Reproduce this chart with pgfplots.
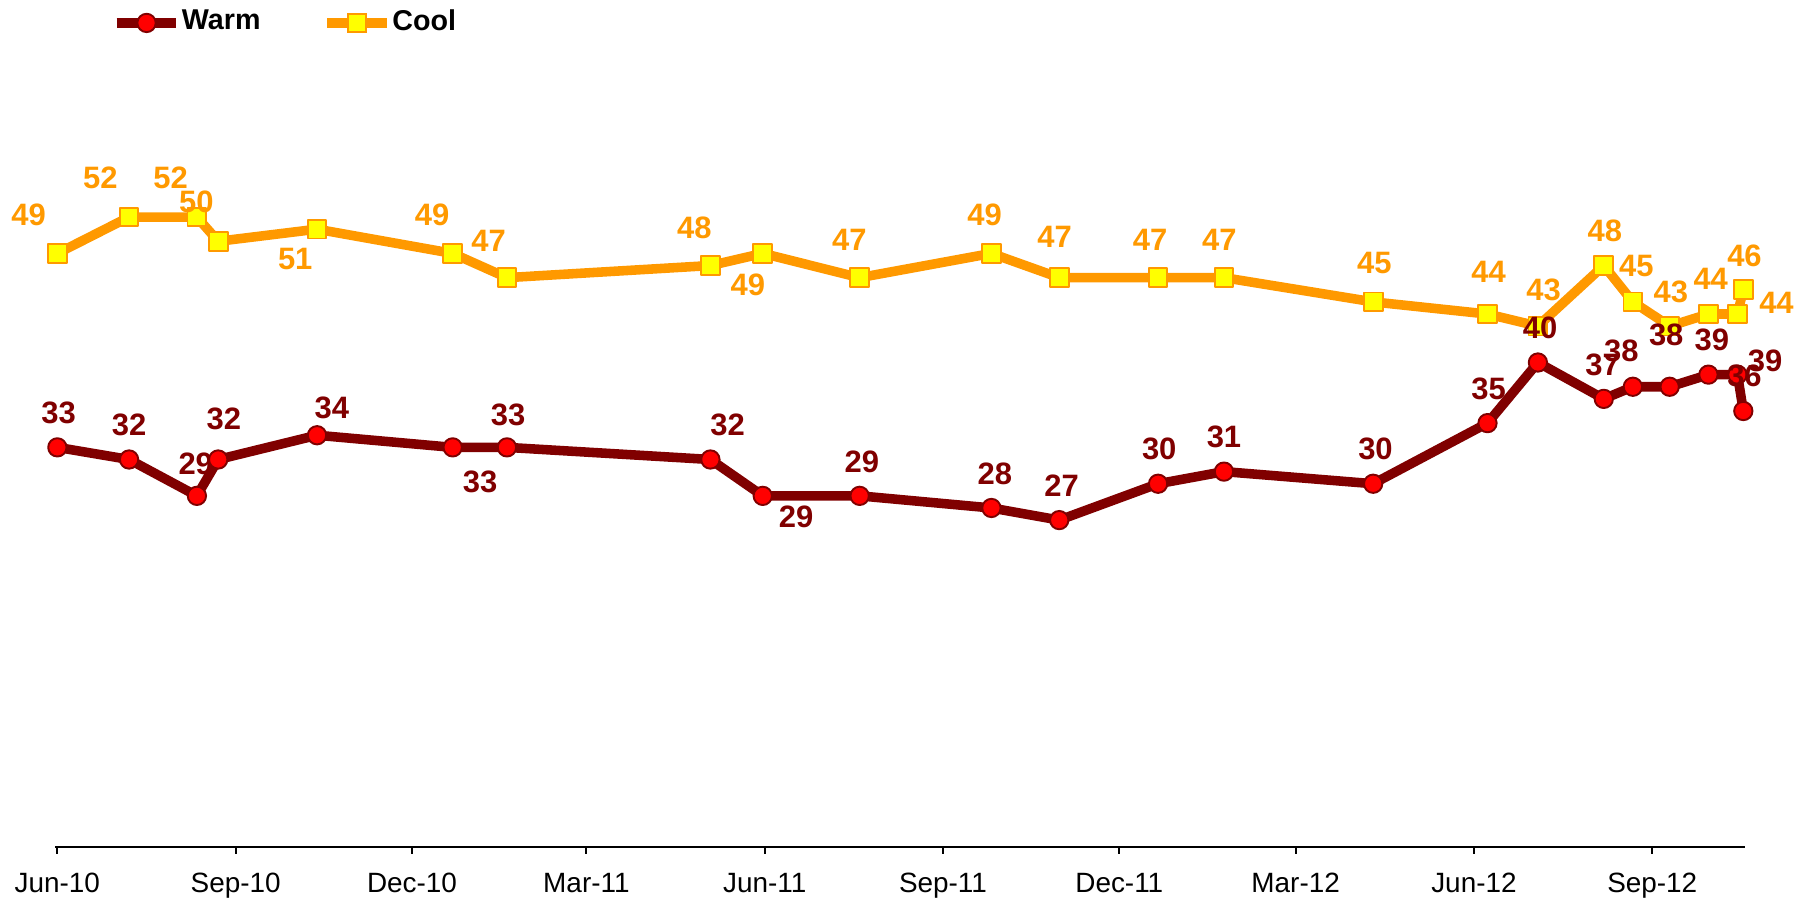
\documentclass[border=0pt]{standalone}
\usepackage{fontspec}
\setmainfont{Liberation Sans}
\usepackage{pgfplots}
\pgfplotsset{compat=1.18}
\definecolor{warm}{HTML}{800000}
\definecolor{warmfill}{HTML}{FF0000}
\definecolor{cool}{HTML}{FF9900}
\definecolor{coolfill}{HTML}{FFFF00}

\begin{document}
\begin{tikzpicture}
\begin{axis}[name=ax,
  scale only axis, width=442.1pt, height=222pt,
  xmin=-1, xmax=871, ymin=0, ymax=70,
  axis x line*=bottom, axis y line=none,
  clip=false,
  xtick={0,92,183,273,365,457,548,639,731,823},
  xticklabels={Jun-10,Sep-10,Dec-10,Mar-11,Jun-11,Sep-11,Dec-11,Mar-12,Jun-12,Sep-12},
  xtick align=outside, major tick length=1.6pt,
  tick style={black, line width=0.5pt},
  axis line style={black, line width=0.5pt},
  xticklabel style={font=\fontsize{7.3}{8.8}\selectfont, anchor=base, yshift=-10.1pt},
  /pgf/number format/assume math mode=true,
  legend columns=2,
  legend style={draw=none, fill=none, at={(0.0330,0.9716)}, anchor=west,
    font=\bfseries\fontsize{7.5}{9}\selectfont, inner sep=0pt,
    /tikz/every even column/.append style={column sep=16pt},
    nodes={inner sep=0.2pt}},
  legend image code/.code={\draw[mark repeat=2,mark phase=2,#1] plot coordinates {(0pt,0pt)(7.8pt,0pt)(15.6pt,0pt)};},
]
\addlegendimage{color=warm, line width=2.5pt, mark=*, mark size=2.4pt, mark options={fill=warmfill, draw=warm, line width=0.5pt}}
\addlegendentry{Warm}
\addlegendimage{color=cool, line width=2.5pt, mark=square*, mark size=2.45pt, mark options={fill=coolfill, draw=cool, line width=0.5pt}}
\addlegendentry{Cool}
% x = days since 1 Jun 2010, y = value, dx/dy = label offset (px)
\addplot[forget plot, color=cool, line width=2.5pt, line join=round,
  mark=square*, mark size=2.45pt, mark options={fill=coolfill, draw=cool, line width=0.5pt},
  nodes near coords,
  visualization depends on={\thisrow{dx} \as \ldx},
  visualization depends on={\thisrow{dy} \as \ldy},
  every node near coord/.append style={anchor=center, inner sep=0pt, text=cool,
    font=\bfseries\fontsize{8.1}{9.7}\selectfont, xshift={\ldx*0.3pt}, yshift={\ldy*0.3pt}},
] table[x=x,y=y] {
x y dx dy
0 49 -25 34
37 52 -25 34
72 52 -23 34
83 50 -19 34
134 51 -19 -26
204 49 -18 34
232 47 -16 32
337 48 -14 33
364 49 -13 -27
414 47 -9 33
482 49 -6 34
517 47 -4 36
568 47 -7 33
602 47 -4 33
679 45 1 34
738 44 1 37
764 43 5 32
798 48 1 30
813 45 3 31
832 43 1 30
852 44 2 31
867 44 34 10
870 46 1 30
};
\addplot[forget plot, color=warm, line width=2.5pt, line join=round,
  mark=*, mark size=2.4pt, mark options={fill=warmfill, draw=warm, line width=0.5pt},
  nodes near coords,
  visualization depends on={\thisrow{dx} \as \ldx},
  visualization depends on={\thisrow{dy} \as \ldy},
  every node near coord/.append style={anchor=center, inner sep=0pt, text=warm,
    font=\bfseries\fontsize{8.1}{9.7}\selectfont, xshift={\ldx*0.3pt}, yshift={\ldy*0.3pt}},
] table[x=x,y=y] {
x y dx dy
0 33 1 30
37 32 0 30
72 29 -1 28
83 32 5 35
134 34 13 24
204 33 24 -30
232 33 1 28
337 32 15 30
364 29 29 -18
414 29 2 30
482 28 3 30
517 27 2 30
568 30 1 30
602 31 0 30
679 30 2 30
738 35 1 30
764 40 2 30
798 37 -1 30
813 38 -10 31
832 38 -3 45
852 39 3 30
867 39 24 12
870 36 1 31
};
\end{axis}
\pgfresetboundingbox
\path[use as bounding box] ([xshift=-14.5pt,yshift=-13.5pt]ax.south west) rectangle ([xshift=13.8pt,yshift=-0.3pt]ax.north east);
\end{tikzpicture}
\end{document}
